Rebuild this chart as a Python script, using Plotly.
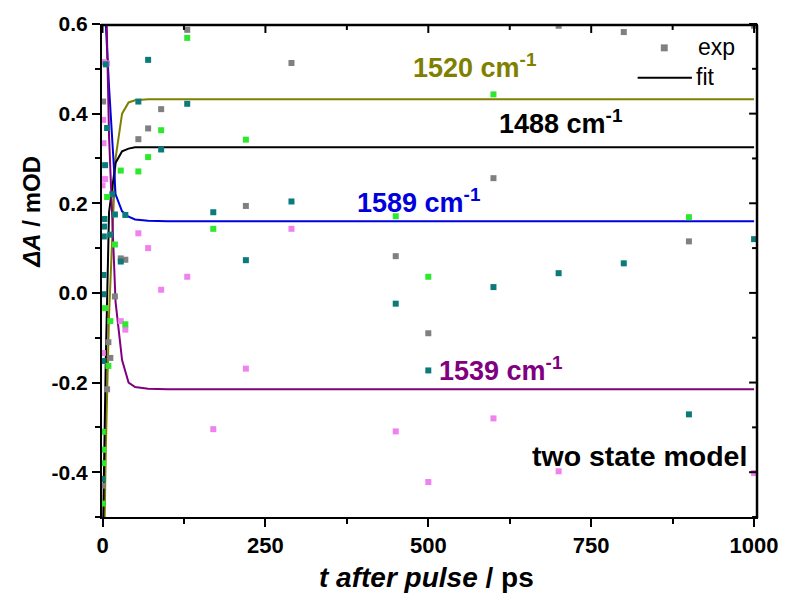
import plotly.graph_objects as go

# ---------------- data ----------------
exp_t = [0, 0.5, 1, 1.5, 2, 2.5, 3, 4, 5, 7, 9, 12, 15, 19, 28, 35, 55, 70, 90,
         130, 170, 220, 290, 450, 500, 600, 700, 800, 900, 1000]

exp_1488 = [-0.43, None, 0.427, None, None, None, None, None, None, -0.215, -0.11, -0.145, None, -0.008,
            0.077, 0.074, 0.343, 0.367, 0.41, 0.587, None, 0.194, 0.513, 0.082, -0.09, 0.256,
            0.596, 0.582, 0.115, 0.596]
exp_1520 = [-0.47, -0.31, -0.38, -0.35, None, None, None, -0.034, None, 0.214, -0.163, -0.063, None, 0.108,
            0.273, -0.07, 0.271, 0.303, 0.363, 0.569, 0.143, 0.342, None, 0.171, 0.036, 0.443,
            None, None, 0.169, None]
exp_1589 = [-0.415, -0.152, -0.003, 0.04, 0.126, 0.148, 0.165, 0.285, 0.51, 0.368, None, 0.13, 0.22, 0.175,
            0.07, 0.174, 0.427, 0.52, 0.32, 0.422, 0.18, 0.073, 0.204, -0.024, -0.173, 0.013,
            0.044, 0.066, -0.271, 0.12]
exp_1539 = [0.24, -0.134, 0.386, 0.334, 0.515, None, None, 0.254, None, 0.512, None, None, None, None,
            -0.063, -0.082, 0.133, 0.1, 0.007, 0.036, -0.304, -0.169, 0.143, -0.309, -0.422, -0.28,
            -0.398, None, None, -0.402]

fit_t = [0, 5, 10, 20, 30, 40, 50, 70, 100, 1000]
fit_1520 = [-0.8, -0.35, -0.05, 0.30, 0.40, 0.425, 0.43, 0.432, 0.432, 0.432]
fit_1488 = [-0.6, -0.15, 0.18, 0.29, 0.316, 0.322, 0.325, 0.325, 0.325, 0.325]
fit_1589 = [0.74, 0.60, 0.46, 0.22, 0.182, 0.17, 0.164, 0.161, 0.16, 0.16]
fit_1539 = [1.2, 0.7, 0.35, -0.02, -0.15, -0.20, -0.21, -0.214, -0.215, -0.215]

x_tickvals = [0, 250, 500, 750, 1000]
x_ticktext = ["0", "250", "500", "750", "1000"]
x_minorvals = [125, 375, 625, 875]
y_tickvals = [-0.4, -0.2, 0.0, 0.2, 0.4, 0.6]
y_ticktext = ["-0.4", "-0.2", "0.0", "0.2", "0.4", "0.6"]
y_minorvals = [-0.5, -0.3, -0.1, 0.1, 0.3, 0.5]

# ---------------- styles ----------------
C_GRAY, C_GREEN, C_TEAL, C_PINK = "#808080", "#2ee82e", "#0a7a7a", "#f082f0"
C_OLIVE, C_BLACK, C_BLUE, C_PURPLE = "#808000", "#000000", "#0000dd", "#800080"
FONT = "Liberation Sans, Arial, sans-serif"

W, H = 791, 601
L, R, T, B = 102, 767, 21, 517


def px(xp):
    return (xp - L) / (R - L)


def py(yp):
    return (B - yp) / (B - T)


fig = go.Figure()

for vals, col in [(fit_1520, C_OLIVE), (fit_1488, C_BLACK), (fit_1589, C_BLUE), (fit_1539, C_PURPLE)]:
    fig.add_trace(go.Scatter(x=fit_t, y=vals, mode="lines", line=dict(color=col, width=2),
                             showlegend=False, hoverinfo="skip"))

for vals, col in [(exp_1488, C_GRAY), (exp_1539, C_PINK), (exp_1589, C_TEAL), (exp_1520, C_GREEN)]:
    fig.add_trace(go.Scatter(x=exp_t, y=vals, mode="markers",
                             marker=dict(symbol="square", size=6, color=col, line=dict(width=0)),
                             showlegend=False, hoverinfo="skip"))

XR = [-0.8, 1006]
YR = [-0.5, 0.6]

fig.update_layout(
    width=W, height=H, autosize=False,
    margin=dict(l=L, r=W - R, t=T, b=H - B),
    plot_bgcolor="white", paper_bgcolor="white",
    font=dict(family=FONT, color="black"),
    xaxis=dict(range=XR, showgrid=False, zeroline=False, showline=True,
               linecolor="black", linewidth=2,
               ticks="outside", ticklen=8, tickwidth=2, tickcolor="black",
               tickvals=x_tickvals, ticktext=x_ticktext, ticklabeloverflow="allow",
               tickfont=dict(family=FONT, size=22, color="black", weight="bold"),
               minor=dict(ticks="outside", ticklen=5, tickwidth=2, tickcolor="black", dtick=125, tick0=0)),
    yaxis=dict(range=YR, showgrid=False, zeroline=False, showline=True,
               linecolor="black", linewidth=2,
               ticks="outside", ticklen=8, tickwidth=2, tickcolor="black",
               tickvals=y_tickvals, ticktext=y_ticktext,
               tickfont=dict(family=FONT, size=21, color="black", weight="bold"),
               minor=dict(ticks="outside", ticklen=5, tickwidth=2, tickcolor="black", dtick=0.1, tick0=0)),
    showlegend=False,
)

ann = []
# axis titles
ann.append(dict(text="<b><i>t after pulse</i> / ps</b>", xref="paper", yref="paper",
                x=px(431), y=py(578), xanchor="center", yanchor="middle", showarrow=False,
                font=dict(family=FONT, size=28, color="black")))
ann.append(dict(text="<b><i>ΔA</i> / mOD</b>", xref="paper", yref="paper", textangle=-90,
                x=px(31), y=py(210), xanchor="center", yanchor="middle", showarrow=False,
                font=dict(family=FONT, size=24, color="black")))
# series labels
for txt, col, xl, yc, fs in [("1520 cm<sup>-1</sup>", C_OLIVE, 415, 63, 27),
                             ("1488 cm<sup>-1</sup>", C_BLACK, 502, 120, 27),
                             ("1589 cm<sup>-1</sup>", C_BLUE, 358, 199, 27),
                             ("1539 cm<sup>-1</sup>", C_PURPLE, 442, 368, 27),
                             ("two state model", C_BLACK, 536, 456, 28.5)]:
    ann.append(dict(text="<b>" + txt + "</b>", xref="paper", yref="paper", x=px(xl), y=py(yc),
                    xanchor="left", yanchor="middle", showarrow=False,
                    font=dict(family=FONT, size=fs, color=col)))
# legend texts
ann.append(dict(text="exp", xref="paper", yref="paper", x=px(704), y=py(44), xanchor="left",
                yanchor="middle", showarrow=False, font=dict(family=FONT, size=23, color="black")))
ann.append(dict(text="fit", xref="paper", yref="paper", x=px(702), y=py(74), xanchor="left",
                yanchor="middle", showarrow=False, font=dict(family=FONT, size=23, color="black")))
fig.update_layout(annotations=ann)

# frame (top + right) and inward ticks, slightly inset from the plot edge
top = py(T + 1)
right = px(R - 1)
major_x, minor_x = 8 / (R - L), 5 / (R - L)
major_y, minor_y = 8 / (B - T), 5 / (B - T)
shapes = [
    dict(type="line", xref="paper", yref="paper", x0=px(L - 1), x1=right + 1 / (R - L), y0=top, y1=top,
         line=dict(color="black", width=2.5), layer="above"),
    dict(type="line", xref="paper", yref="paper", x0=right, x1=right, y0=py(B + 1), y1=top,
         line=dict(color="black", width=2.5), layer="above"),
    dict(type="rect", xref="paper", yref="paper", x0=px(668.5), x1=px(675.5), y0=py(48.5), y1=py(41.5),
         fillcolor=C_GRAY, line=dict(width=0)),
    dict(type="line", xref="paper", yref="paper", x0=px(645), x1=px(700), y0=py(75), y1=py(75),
         line=dict(color="black", width=2)),
]
for v in x_tickvals + x_minorvals:
    ln = major_y if v in x_tickvals else minor_y
    xp = px(L + (v - XR[0]) / (XR[1] - XR[0]) * (R - L))
    shapes.append(dict(type="line", xref="paper", yref="paper", x0=xp, x1=xp, y0=top, y1=top - ln,
                       line=dict(color="black", width=2)))
for v in y_tickvals + y_minorvals:
    ln = major_x if v in y_tickvals else minor_x
    yp = (v - YR[0]) / (YR[1] - YR[0])
    shapes.append(dict(type="line", xref="paper", yref="paper", x0=right, x1=right - ln, y0=yp, y1=yp,
                       line=dict(color="black", width=2)))
fig.update_layout(shapes=shapes)

fig.write_html("out.html", config={"displayModeBar": False, "responsive": False},
               post_script="document.body.style.margin='0px';document.body.style.overflow='hidden';")
